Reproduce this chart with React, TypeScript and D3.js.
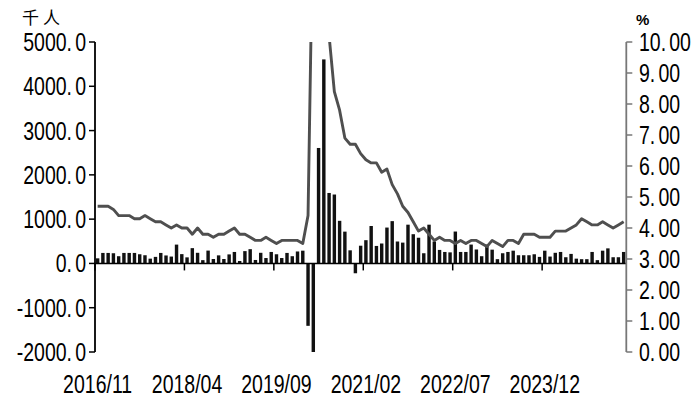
import React from "react";
import * as d3 from "d3";

const W = 693;
const H = 401;

// categories: monthly 2016/11 .. 2025/03
const months: string[] = d3
  .timeMonth.range(new Date(2016, 10, 1), new Date(2025, 3, 1))
  .map(d3.timeFormat("%Y/%m"));

// non-farm payroll change (thousand persons)
const payrolls: number[] = [
  115, 237, 237, 230, 163, 237, 237, 237, 207, 185, 108, 148,
  237, 180, 155, 425, 210, 137, 345, 240, 74, 290, 100, 182,
  100, 204, 259, 55, 278, 322, 78, 240, 122, 259, 207, 122,
  237, 163, 270, 288, -1409, -20500, 2607, 4607, 1591, 1556, 962, 718,
  296, -222, 400, 525, 845, 395, 450, 810, 955, 495, 470, 875,
  660, 580, 230, 875, 495, 305, 259, 250, 720, 259, 259, 426,
  315, 163, 426, 311, 96, 230, 259, 288, 185, 185, 185, 207,
  148, 288, 155, 240, 259, 140, 215, 108, 96, 96, 259, 74,
  288, 340, 140, 140, 259,
];

// unemployment rate (%)
const unemployment: number[] = [
  4.7, 4.7,
  4.7, 4.6, 4.4, 4.4, 4.4, 4.3, 4.3, 4.4, 4.3, 4.2, 4.2, 4.1,
  4.0, 4.1, 4.0, 4.0, 3.8, 4.0, 3.8, 3.8, 3.7, 3.8, 3.8, 3.9,
  4.0, 3.8, 3.8, 3.7, 3.6, 3.6, 3.7, 3.6, 3.5, 3.6, 3.6, 3.6,
  3.6, 3.5, 4.4, 14.8, 13.2, 11.0, 10.2, 8.4, 7.8, 6.9, 6.7, 6.7,
  6.4, 6.2, 6.1, 6.1, 5.8, 5.9, 5.4, 5.1, 4.7, 4.5, 4.2, 3.9,
  4.0, 3.8, 3.6, 3.7, 3.6, 3.6, 3.5, 3.6, 3.5, 3.6, 3.6, 3.5,
  3.4, 3.6, 3.5, 3.4, 3.6, 3.6, 3.5, 3.8, 3.8, 3.8, 3.7, 3.7,
  3.7, 3.9, 3.9, 3.9, 4.0, 4.1, 4.3, 4.2, 4.1, 4.1, 4.2, 4.1,
  4.0, 4.1, 4.2,
];

const xTickLabels = ["2016/11", "2018/04", "2019/09", "2021/02", "2022/07", "2023/12"];
const leftTicks = [-2000, -1000, 0, 1000, 2000, 3000, 4000, 5000];
const rightTicks = [0, 1, 2, 3, 4, 5, 6, 7, 8, 9, 10];
const leftUnit = "千人";
const rightUnit = "%";

const FONT = "'Liberation Sans', Arial, sans-serif";
const FS = 25;
const SX = 0.78;

function Num({ x, y, text, anchor }: { x: number; y: number; text: string; anchor: "start" | "end" }) {
  const [a, b] = text.split(".");
  return (
    <text
      transform={`translate(${x},${y}) scale(${SX},1)`}
      dy="0.36em"
      textAnchor={anchor}
      fontFamily={FONT}
      fontSize={FS}
      fill="#000"
    >
      <tspan>{a}.</tspan>
      <tspan dx={4}>{b}</tspan>
    </text>
  );
}

export default function App() {
  const left = 95;
  const right = 626.3;
  const top = 42;
  const bottom = 352;

  const x = d3
    .scaleBand<string>()
    .domain(months)
    .range([left, right])
    .paddingInner(0.35)
    .paddingOuter(0.175);
  const yL = d3.scaleLinear().domain([-2000, 5000]).range([bottom, top]);
  const yR = d3.scaleLinear().domain([0, 10]).range([bottom, top]);

  const bw = x.bandwidth();
  const gap = (x.step() - bw) / 2;
  const cx = (m: string) => (x(m) as number) + bw / 2;

  const line = d3
    .line<number>()
    .x((_, i) => cx(months[i]))
    .y((d) => yR(d));

  const y0 = yL(0);

  return (
    <svg width={W} height={H} style={{ display: "block", position: "absolute", left: 0, top: 0 }}>
      <defs>
        <clipPath id="plot">
          <rect x={left} y={top} width={right - left} height={bottom - top} />
        </clipPath>
      </defs>
      <rect width={W} height={H} fill="#fff" />

      {/* bars */}
      <g clipPath="url(#plot)">
        {payrolls.map((v, i) => {
          const m = months[i];
          const y1 = yL(Math.max(0, v));
          const y2 = yL(Math.min(0, v));
          return <rect key={m} x={x(m)} y={y1} width={bw} height={y2 - y1} fill="#111" />;
        })}
      </g>

      {/* line */}
      <g clipPath="url(#plot)">
        <path d={line(unemployment) || ""} fill="none" stroke="#4f4f4f" strokeWidth={2.9} strokeLinejoin="round" />
      </g>

      {/* x axis at zero */}
      <line x1={left} x2={right} y1={y0} y2={y0} stroke="#000" strokeWidth={1.5} />
      {xTickLabels.map((lab) => {
        const bx = (x(lab) as number) - gap;
        return <line key={lab} x1={bx} x2={bx} y1={y0} y2={y0 + 7} stroke="#000" strokeWidth={1.5} />;
      })}
      {xTickLabels.map((lab) => (
        <text
          key={lab}
          transform={`translate(${cx(lab)},393) scale(${SX},1)`}
          textAnchor="middle"
          fontFamily={FONT}
          fontSize={FS}
          fill="#000"
        >
          {lab}
        </text>
      ))}

      {/* left axis */}
      <line x1={left} x2={left} y1={top} y2={bottom} stroke="#000" strokeWidth={1.8} />
      {leftTicks.map((t) => (
        <g key={t}>
          <line x1={left - 6} x2={left} y1={yL(t)} y2={yL(t)} stroke="#000" strokeWidth={1.5} />
          <Num x={86} y={yL(t)} text={t.toFixed(1)} anchor="end" />
        </g>
      ))}
      <text x={22} y={24} fontFamily="'Noto Sans CJK SC', sans-serif" fontSize={17} letterSpacing={4} fill="#000">
        {leftUnit}
      </text>

      {/* right axis */}
      <line x1={right} x2={right} y1={top} y2={bottom} stroke="#777" strokeWidth={1.8} />
      {rightTicks.map((t) => (
        <g key={t}>
          <line x1={right} x2={right + 6} y1={yR(t)} y2={yR(t)} stroke="#777" strokeWidth={1.5} />
          <Num x={639} y={yR(t)} text={t.toFixed(2)} anchor="start" />
        </g>
      ))}
      <text x={636} y={25} fontFamily="'Liberation Sans', Arial, sans-serif" fontWeight="bold" fontSize={15} fill="#000">
        {rightUnit}
      </text>
    </svg>
  );
}
